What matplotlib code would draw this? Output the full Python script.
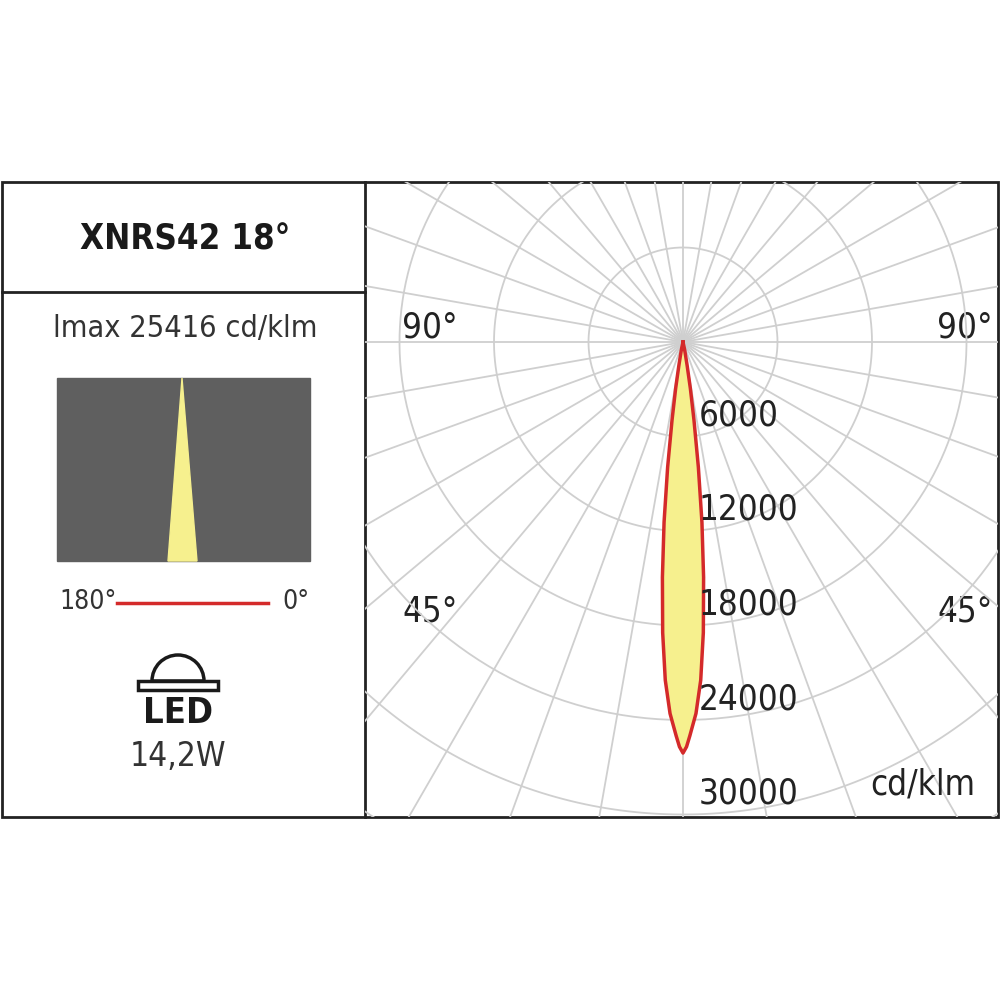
import numpy as np
import matplotlib
matplotlib.use("Agg")
import matplotlib.pyplot as plt
from matplotlib.patches import Rectangle, Polygon, Wedge

title = "XNRS42 18°"
imax_label = "lmax 25416 cd/klm"
power = "14,2W"
ring_values = [6000, 12000, 18000, 24000, 30000]
angles_deg = [0, 0.5, 1, 2, 3, 4, 5, 6, 7, 8, 9, 10, 12, 15]
intensity = [26100, 25700, 25000, 23600, 21500, 18500, 15000, 11500, 8000, 5000, 3000, 1500, 500, 0]

FONT = ['DejaVu Sans']
ST = 'condensed'
fig = plt.figure(figsize=(10, 10), dpi=100)
bg = fig.add_axes([0, 0, 1, 1])
bg.set_xlim(0, 1000); bg.set_ylim(1000, 0); bg.axis('off')

# frame
bg.add_patch(Rectangle((2, 182), 996, 635, fill=False, lw=2, ec='#222222', zorder=10))
bg.plot([365, 365], [182, 817], color='#222222', lw=2, zorder=10)
bg.plot([2, 365], [292, 292], color='#222222', lw=2, zorder=10)

bg.text(185, 240, title, ha='center', va='center', fontsize=25, fontweight='bold', family=FONT, stretch=ST, color='#1a1a1a')
bg.text(185, 328, imax_label, ha='center', va='center', fontsize=22, family=FONT, stretch=ST, color='#333333')
bg.add_patch(Rectangle((57, 378), 253, 183, color='#5f5f5f'))
bg.add_patch(Polygon([(182, 378), (168, 561), (197, 561)], color='#f6f08e'))
bg.plot([117, 268], [603, 603], color='#d42a2a', lw=2.5)
bg.text(117, 602, "180°", ha='right', va='center', fontsize=19, family=FONT, stretch=ST, color='#333333')
bg.text(282, 602, "0°", ha='left', va='center', fontsize=19, family=FONT, stretch=ST, color='#333333')
# LED icon
bg.add_patch(Wedge((178, 681), 26, 180, 360, fill=False, lw=2.5, ec='#1a1a1a'))
bg.add_patch(Rectangle((138, 681), 80, 9, fill=False, lw=2.5, ec='#1a1a1a'))
bg.text(178, 713, "LED", ha='center', va='center', fontsize=26, fontweight='bold', family=FONT, stretch=ST, color='#1a1a1a')
bg.text(178, 757, power, ha='center', va='center', fontsize=24, family=FONT, stretch=ST, color='#333333')

# polar panel in cd/klm units
k = 94.5 / 6000.0
cx, cy = 683, 342
ax = fig.add_axes([365/1000, 1-817/1000, 633/1000, 635/1000])
ax.set_xlim((365-cx)/k, (998-cx)/k)
ax.set_ylim(-(817-cy)/k, (cy-182)/k)
ax.axis('off')
t = np.linspace(0, 2*np.pi, 400)
for r in range(6000, 60001, 6000):
    ax.plot(r*np.cos(t), r*np.sin(t), color='#cfcfcf', lw=1.3, zorder=1)
for a in range(0, 360, 10):
    ar = np.radians(a)
    ax.plot([0, 60000*np.cos(ar)], [0, 60000*np.sin(ar)], color='#cfcfcf', lw=1.3, zorder=1)

th = np.radians(np.array(angles_deg, dtype=float))
I = np.array(intensity, dtype=float)
th_full = np.concatenate([-th[::-1], th[1:]])
I_full = np.concatenate([I[::-1], I[1:]])
xs = I_full*np.sin(th_full)
ys = -I_full*np.cos(th_full)
ax.fill(xs, ys, color='#f6f08e', zorder=2)
ax.plot(xs, ys, color='#d42a2a', lw=2.5, zorder=3)

for r in ring_values:
    ax.text(15.5/k, -r + 4/k, f"{r}", ha='left', va='bottom', fontsize=25, family=FONT, stretch=ST, color='#222222', zorder=4)
ax.text(975, 785, "cd/klm", transform=bg.transData, ha='right', va='center', fontsize=25, family=FONT, stretch=ST, color='#222222')
for x, y, s in [(430, 328, "90°"), (965, 328, "90°"), (430, 612, "45°"), (965, 612, "45°")]:
    bg.text(x, y, s, ha='center', va='center', fontsize=25, family=FONT, stretch=ST, color='#222222', zorder=5)

fig.savefig("out.png", dpi=100)
